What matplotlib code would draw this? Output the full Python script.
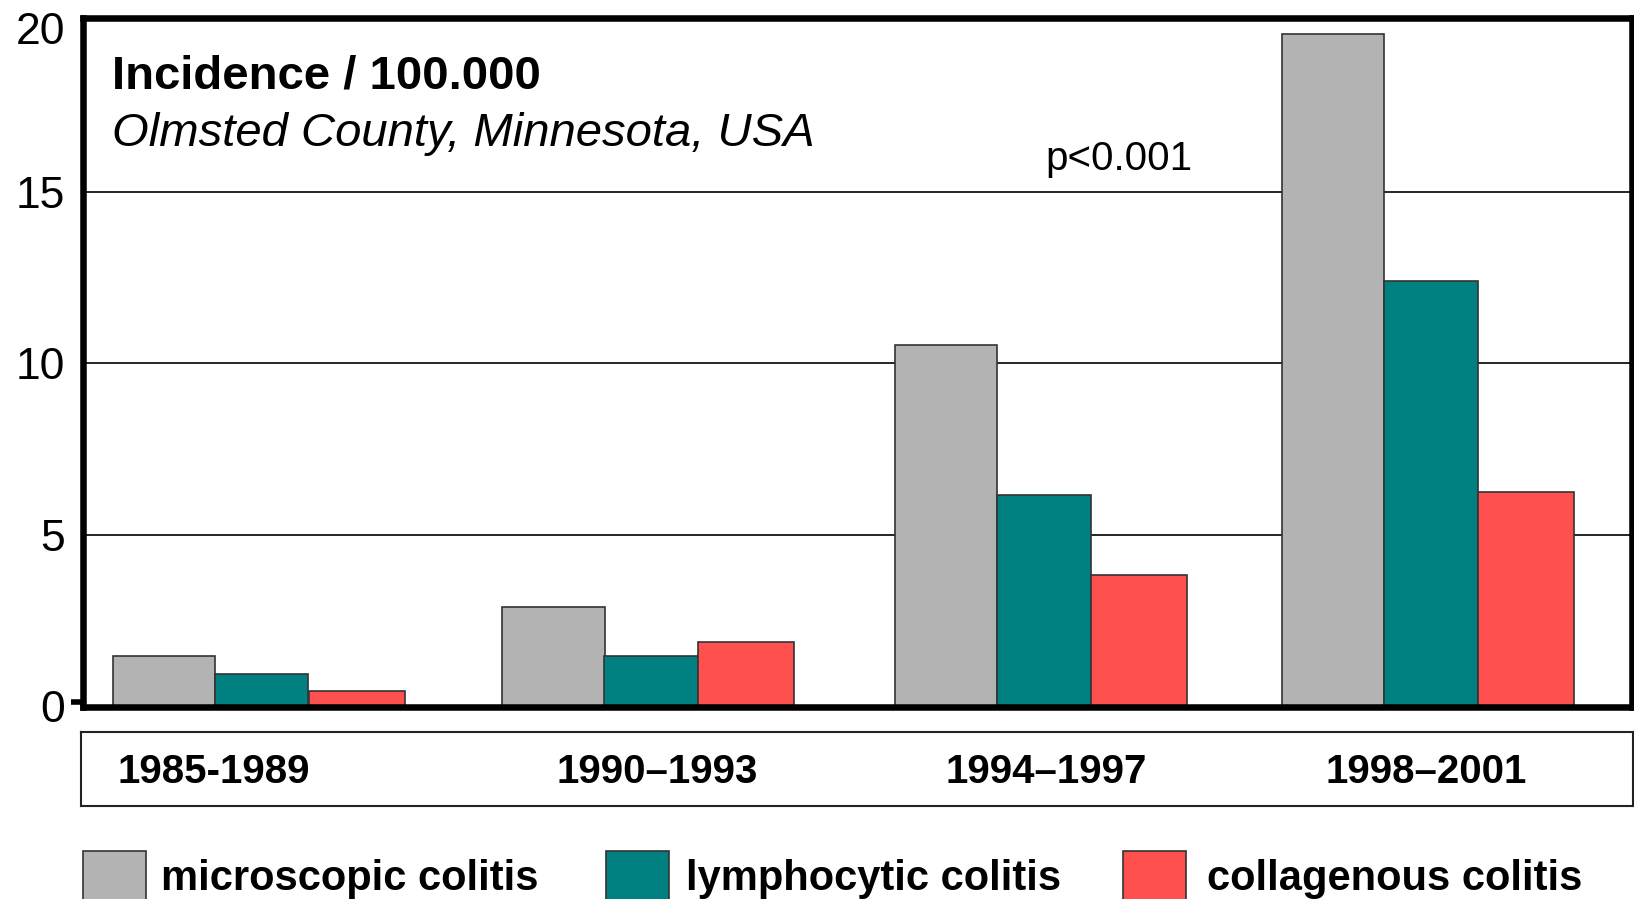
import matplotlib
matplotlib.use('Agg')
import matplotlib.pyplot as plt
import matplotlib.transforms as mtransforms
from matplotlib.patches import Rectangle
import numpy as np

plt.rcParams['font.family'] = ['Liberation Sans', 'DejaVu Sans']

periods = ['1985-1989', '1990\u20131993', '1994\u20131997', '1998\u20132001']
microscopic = [1.46, 2.89, 10.54, 19.6]
lymphocytic = [0.95, 1.46, 6.17, 12.4]
collagenous = [0.45, 1.88, 3.83, 6.26]
series_names = ['microscopic colitis', 'lymphocytic colitis', 'collagenous colitis']
colors = ['#b3b3b3', '#008080', '#ff5050']

W, H = 1634, 899
fig = plt.figure(figsize=(W / 100, H / 100), dpi=100)

# main plot area (pixel positions)
ax = fig.add_axes([83 / W, (H - 706.5) / H, (1632 - 83) / W, 688.5 / H])
x = np.arange(len(periods)) + np.array([0, 0, 0.008, 0])
offsets = [-0.251, 0.0, 0.244]
widths = [0.262, 0.241, 0.246]
for vals, off, w, c in zip([microscopic, lymphocytic, collagenous], offsets, widths, colors):
    ax.bar(x + off, vals, width=w, color=c, edgecolor='#333333', linewidth=1.2, zorder=3)

ax.set_xlim(-0.458, 3.516)
ax.set_ylim(0, 20.07)
ax.set_yticks([0, 5, 10, 15, 20])
ax.set_yticklabels(['0', '5', '10', '15', '20'], fontsize=32)
ax.set_xticks([])
ax.tick_params(axis='y', which='major', length=0, pad=13)
for y in [5, 10, 15]:
    ax.axhline(y, color='black', linewidth=1.2, zorder=1)
for s in ax.spines.values():
    s.set_linewidth(4.7)
    s.set_color('black')
    s.set_zorder(5)

# little stub at zero, left of the axis
stub = mtransforms.blended_transform_factory(ax.transAxes, ax.transData)
ax.plot([-0.008, 0], [0.12, 0.12], transform=stub, color='black', linewidth=4,
        clip_on=False, solid_capstyle='butt', zorder=6)

# nudge the top label down like the original
lab20 = ax.get_yticklabels()[-1]
lab20.set_transform(lab20.get_transform() + mtransforms.ScaledTranslation(0, -0.08, fig.dpi_scale_trans))

ax.text(0.0187, 0.915, 'Incidence / 100.000', transform=ax.transAxes,
        fontsize=34, fontweight='bold', va='center', ha='left')
ax.text(0.0187, 0.832, 'Olmsted County, Minnesota, USA', transform=ax.transAxes,
        fontsize=34, fontstyle='italic', va='center', ha='left')
ax.text(0.669, 0.795, 'p<0.001', transform=ax.transAxes,
        fontsize=29, va='center', ha='center')

# period label box
box = fig.add_axes([81 / W, (H - 805.5) / H, (1633 - 81) / W, 74 / H])
box.set_xticks([])
box.set_yticks([])
for s in box.spines.values():
    s.set_linewidth(1.5)
    s.set_color('#222222')
label_x = [0.0857, 0.371, 0.622, 0.867]
for lx, p in zip(label_x, periods):
    box.text(lx, 0.45, p, transform=box.transAxes, fontsize=29, fontweight='bold',
             ha='center', va='center')

# legend along the bottom edge (squares run off the canvas)
sq_left = [83, 606, 1123]
txt_left = [161, 686, 1207]
for sx, tx, name, c in zip(sq_left, txt_left, series_names, colors):
    fig.add_artist(Rectangle((sx / W, -0.03), 63 / W, 0.03 + (H - 851) / H,
                             transform=fig.transFigure, facecolor=c,
                             edgecolor='#333333', linewidth=1.2))
    fig.text(tx / W, (H - 879) / H, name, fontsize=30, fontweight='bold',
             ha='left', va='center')

fig.savefig('out.png', dpi=100)
